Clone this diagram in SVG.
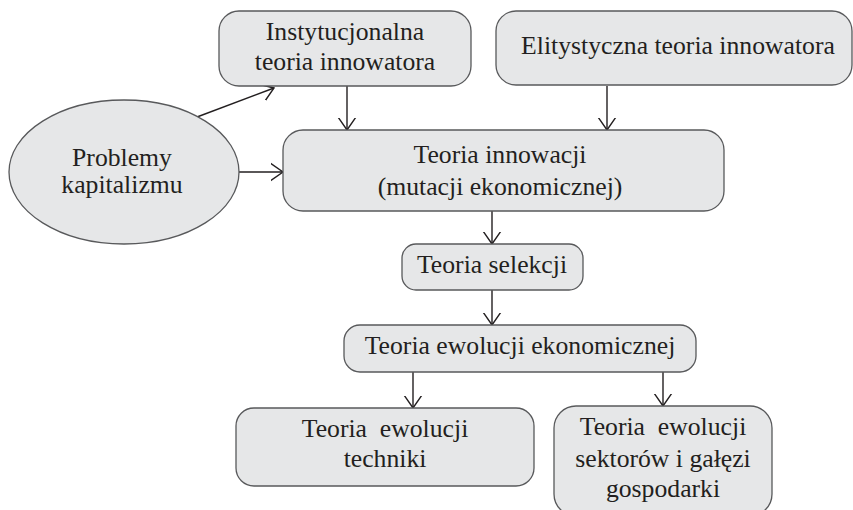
<svg xmlns="http://www.w3.org/2000/svg" width="853" height="510" viewBox="0 0 853 510">
<defs>
<style>
.box{fill:#e6e7e8;stroke:#58595b;stroke-width:1.3}
.t{font-family:"Liberation Serif",serif;font-size:25.7px;fill:#231f20;text-anchor:middle;white-space:pre}
.c{stroke:#231f20;stroke-width:1.4;fill:none}
</style>
<marker id="ah" markerUnits="userSpaceOnUse" markerWidth="24" markerHeight="24" viewBox="-12 -12 24 24" refX="0" refY="0" orient="auto">
<path d="M-13,-9 L0,0 L-13,9" fill="none" stroke="#231f20" stroke-width="1.4"/>
</marker>
</defs>
<rect width="853" height="510" fill="#ffffff"/>
<g id="connectors">
<line class="c" x1="197" y1="117" x2="274" y2="88" marker-end="url(#ah)"/>
<line class="c" x1="239" y1="172" x2="283" y2="172" marker-end="url(#ah)"/>
<line class="c" x1="347" y1="86" x2="347" y2="130" marker-end="url(#ah)"/>
<line class="c" x1="607" y1="86" x2="607" y2="130" marker-end="url(#ah)"/>
<line class="c" x1="492" y1="211" x2="492" y2="244" marker-end="url(#ah)"/>
<line class="c" x1="492" y1="290" x2="492" y2="325" marker-end="url(#ah)"/>
<line class="c" x1="413" y1="372" x2="413" y2="408" marker-end="url(#ah)"/>
<line class="c" x1="663" y1="372" x2="663" y2="406" marker-end="url(#ah)"/>
</g>
<g id="instytucjonalna">
<rect class="box" x="219" y="11" width="252" height="75" rx="20"/>
<text class="t" x="345" y="40">Instytucjonalna</text>
<text class="t" x="345" y="70">teoria innowatora</text>
</g>
<g id="elitystyczna">
<rect class="box" x="496" y="11" width="356" height="74" rx="20"/>
<text class="t" x="678" y="54">Elitystyczna teoria innowatora</text>
</g>
<g id="problemy">
<ellipse class="box" cx="124" cy="172" rx="115" ry="72"/>
<text class="t" x="122" y="166">Problemy</text>
<text class="t" x="122" y="193">kapitalizmu</text>
</g>
<g id="innowacji">
<rect class="box" x="283" y="130" width="441" height="81" rx="20"/>
<text class="t" x="500" y="163">Teoria innowacji</text>
<text class="t" x="500" y="195">(mutacji ekonomicznej)</text>
</g>
<g id="selekcji">
<rect class="box" x="402" y="244" width="181" height="46" rx="14"/>
<text class="t" x="492" y="273">Teoria selekcji</text>
</g>
<g id="ewolucji-ekonomicznej">
<rect class="box" x="344" y="325" width="352" height="47" rx="16"/>
<text class="t" x="520" y="354">Teoria ewolucji ekonomicznej</text>
</g>
<g id="techniki">
<rect class="box" x="236" y="408" width="298" height="78" rx="18"/>
<text class="t" x="385" y="437">Teoria  ewolucji</text>
<text class="t" x="385" y="467">techniki</text>
</g>
<g id="sektorow">
<rect class="box" x="554" y="406" width="218" height="110" rx="22"/>
<text class="t" x="663" y="435">Teoria  ewolucji</text>
<text class="t" x="663" y="467">sektorów i gałęzi</text>
<text class="t" x="663" y="497">gospodarki</text>
</g>
</svg>
